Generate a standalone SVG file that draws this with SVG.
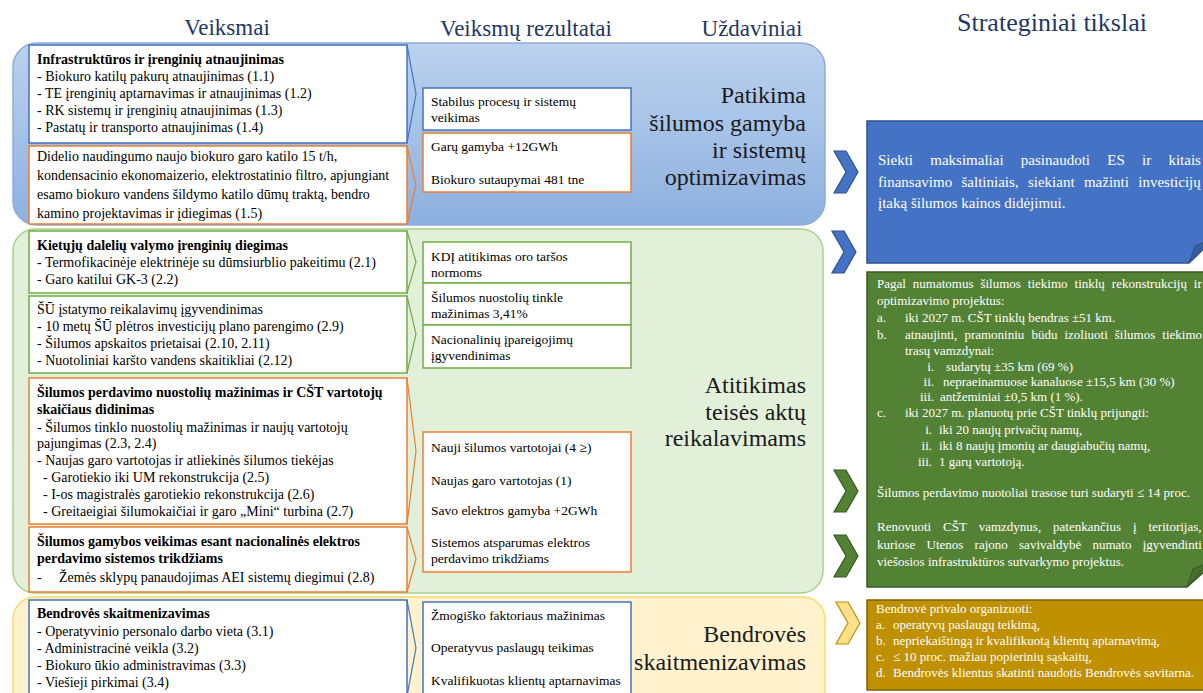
<svg xmlns="http://www.w3.org/2000/svg" xmlns:xlink="http://www.w3.org/1999/xlink" width="1203" height="693" viewBox="0 0 1203 693" font-family="'Liberation Serif', 'Times New Roman', Times, serif">
<defs>
<linearGradient id="gBlue" x1="0" y1="0" x2="0" y2="1"><stop offset="0" stop-color="#BCD2EE"/><stop offset="1" stop-color="#8DB0DF"/></linearGradient>
<polygon id="chev" points="0,0 12,0 24,21 12,42 0,42 12,21"/>
</defs>
<style>
svg text{font-family:'Liberation Serif','Times New Roman',Times,serif}
.h{font-size:23px;fill:#1F3864;text-anchor:middle}
.l{font-size:14px;fill:#000}
.b{font-weight:bold}
.m{font-size:13.5px;fill:#000}
.u{font-size:24px;fill:#1a1a1a;text-anchor:end}
.bx{fill:#fff;stroke-width:1.5}
.bl{stroke:#4472C4}.or{stroke:#ED7D31}.gr{stroke:#70AD47}
.arr{fill:none;stroke-width:1.2}
.w{fill:#fff}
.s13{font-size:13px}
.s15{font-size:15px}
.e{text-anchor:end}
</style>
<rect width="1203" height="693" fill="#fff"/>
<g id="headers">
<text class="h" x="227" y="35">Veiksmai</text>
<text class="h" x="526" y="36">Veiksmų rezultatai</text>
<text class="h" x="752" y="36">Uždaviniai</text>
<text class="h" x="1052" y="31" style="font-size:26px">Strateginiai tikslai</text>
</g>
<g id="sections">
<rect x="13" y="43" width="812" height="182" rx="24" fill="url(#gBlue)" stroke="#8FAADC" stroke-width="1.5"/>
<rect x="13" y="229" width="810" height="364" rx="22" fill="#E2F0D9" stroke="#A9D18E" stroke-width="1.5"/>
<rect x="13" y="597" width="812" height="130" rx="22" fill="#FFF2CC" stroke="#FFD966" stroke-width="1.5"/>
</g>
<g id="a1">
<rect class="bx bl" x="29" y="45" width="378" height="98"/>
<path class="arr bl" d="M407,45 L416,94 L407,143"/>
<text class="l b" x="37" y="64">Infrastruktūros ir įrenginių atnaujinimas</text>
<text class="l" x="37" y="81">- Biokuro katilų pakurų atnaujinimas (1.1)</text>
<text class="l" x="37" y="98">- TE įrenginių aptarnavimas ir atnaujinimas (1.2)</text>
<text class="l" x="37" y="115">- RK sistemų ir įrenginių atnaujinimas (1.3)</text>
<text class="l" x="37" y="132">- Pastatų ir transporto atnaujinimas (1.4)</text>
</g>
<g id="a2">
<rect class="bx or" x="29" y="146" width="378" height="78"/>
<path class="arr or" d="M407,146 L416,185 L407,224"/>
<text class="l" x="37" y="161">Didelio naudingumo naujo biokuro garo katilo 15 t/h,</text>
<text class="l" x="37" y="180">kondensacinio ekonomaizerio, elektrostatinio filtro, apjungiant</text>
<text class="l" x="37" y="199">esamo biokuro vandens šildymo katilo dūmų traktą, bendro</text>
<text class="l" x="37" y="218">kamino projektavimas ir įdiegimas (1.5)</text>
</g>
<g id="a3">
<rect class="bx gr" x="29" y="231" width="378" height="62"/>
<path class="arr gr" d="M407,231 L416,262 L407,293"/>
<text class="l b" x="37" y="250">Kietųjų dalelių valymo įrenginių diegimas</text>
<text class="l" x="37" y="267">- Termofikacinėje elektrinėje su dūmsiurblio pakeitimu (2.1)</text>
<text class="l" x="37" y="284">- Garo katilui GK-3 (2.2)</text>
</g>
<g id="a4">
<rect class="bx gr" x="29" y="296" width="378" height="77"/>
<path class="arr gr" d="M407,296 L416,334 L407,373"/>
<text class="l" x="37" y="314">ŠŪ įstatymo reikalavimų įgyvendinimas</text>
<text class="l" x="37" y="331">- 10 metų ŠŪ plėtros investicijų plano parengimo (2.9)</text>
<text class="l" x="37" y="348">- Šilumos apskaitos prietaisai (2.10, 2.11)</text>
<text class="l" x="37" y="365">- Nuotoliniai karšto vandens skaitikliai (2.12)</text>
</g>
<g id="a5">
<rect class="bx or" x="29" y="378" width="378" height="146"/>
<path class="arr or" d="M407,378 L416,451 L407,524"/>
<text class="l b" x="37" y="397">Šilumos perdavimo nuostolių mažinimas ir CŠT vartotojų</text>
<text class="l b" x="37" y="414">skaičiaus didinimas</text>
<text class="l" x="37" y="432">- Šilumos tinklo nuostolių mažinimas ir naujų vartotojų</text>
<text class="l" x="37" y="448">pajungimas (2.3, 2.4)</text>
<text class="l" x="37" y="465">- Naujas garo vartotojas ir atliekinės šilumos tiekėjas</text>
<text class="l" x="43" y="482">- Garotiekio iki UM rekonstrukcija (2.5)</text>
<text class="l" x="43" y="499">- I-os magistralės garotiekio rekonstrukcija (2.6)</text>
<text class="l" x="43" y="516">- Greitaeigiai šilumokaičiai ir garo „Mini“ turbina (2.7)</text>
</g>
<g id="a6">
<rect class="bx or" x="29" y="527" width="378" height="65"/>
<path class="arr or" d="M407,527 L416,559 L407,592"/>
<text class="l b" x="37" y="546">Šilumos gamybos veikimas esant nacionalinės elektros</text>
<text class="l b" x="37" y="563">perdavimo sistemos trikdžiams</text>
<text class="l" x="37" y="582">-</text>
<text class="l" x="59" y="582">Žemės sklypų panaudojimas AEI sistemų diegimui (2.8)</text>
</g>
<g id="a7">
<rect class="bx bl" x="29" y="600" width="378" height="110"/>
<path class="arr bl" d="M407,600 L416,648 L407,696"/>
<text class="l b" x="37" y="618">Bendrovės skaitmenizavimas</text>
<text class="l" x="37" y="636">- Operatyvinio personalo darbo vieta (3.1)</text>
<text class="l" x="37" y="653">- Administracinė veikla (3.2)</text>
<text class="l" x="37" y="670">- Biokuro ūkio administravimas (3.3)</text>
<text class="l" x="37" y="687">- Viešieji pirkimai (3.4)</text>
</g>
<g id="r1">
<rect class="bx bl" x="423" y="88" width="208" height="42"/>
<text class="m" x="431" y="106">Stabilus procesų ir sistemų</text>
<text class="m" x="431" y="122">veikimas</text>
</g>
<g id="r2">
<rect class="bx or" x="423" y="133" width="208" height="59"/>
<text class="m" x="431" y="151">Garų gamyba +12GWh</text>
<text class="m" x="431" y="184">Biokuro sutaupymai 481 tne</text>
</g>
<g id="r3">
<rect class="bx gr" x="423" y="242" width="208" height="41"/>
<text class="m" x="431" y="261">KDĮ atitikimas oro taršos</text>
<text class="m" x="431" y="277">normoms</text>
</g>
<g id="r4">
<rect class="bx gr" x="423" y="283" width="208" height="42"/>
<text class="m" x="431" y="302">Šilumos nuostolių tinkle</text>
<text class="m" x="431" y="318">mažinimas 3,41%</text>
</g>
<g id="r5">
<rect class="bx gr" x="423" y="325" width="208" height="43"/>
<text class="m" x="431" y="344">Nacionalinių įpareigojimų</text>
<text class="m" x="431" y="360">įgyvendinimas</text>
</g>
<g id="r6">
<rect class="bx or" x="423" y="432" width="208" height="140"/>
<text class="m" x="431" y="452">Nauji šilumos vartotojai (4 ≥)</text>
<text class="m" x="431" y="485">Naujas garo vartotojas (1)</text>
<text class="m" x="431" y="515">Savo elektros gamyba +2GWh</text>
<text class="m" x="431" y="547">Sistemos atsparumas elektros</text>
<text class="m" x="431" y="563">perdavimo trikdžiams</text>
</g>
<g id="r7">
<rect class="bx bl" x="423" y="602" width="208" height="110"/>
<text class="m" x="431" y="620">Žmogiško faktoriaus mažinimas</text>
<text class="m" x="431" y="652">Operatyvus paslaugų teikimas</text>
<text class="m" x="431" y="685">Kvalifikuotas klientų aptarnavimas</text>
</g>
<g id="u1">
<text class="u" x="806" y="103">Patikima</text>
<text class="u" x="806" y="131">šilumos gamyba</text>
<text class="u" x="806" y="158">ir sistemų</text>
<text class="u" x="806" y="185">optimizavimas</text>
</g>
<g id="u2">
<text class="u" x="806" y="393">Atitikimas</text>
<text class="u" x="806" y="420">teisės aktų</text>
<text class="u" x="806" y="446">reikalavimams</text>
</g>
<g id="u3">
<text class="u" x="806" y="642">Bendrovės</text>
<text class="u" x="806" y="670">skaitmenizavimas</text>
</g>
<g id="t1">
<path d="M867,121 H1215 V238 L1189,263 H867 Z" fill="#4472C4" stroke="#2F528F" stroke-width="1.5"/>
<path d="M1189,263 L1195,246 L1210,239 Z" fill="#365F9E" stroke="#2F528F" stroke-width="1"/>
<text class="w s15" x="878" y="165" word-spacing="13.5">Siekti maksimaliai pasinaudoti ES ir kitais</text>
<text class="w s15" x="878" y="187" word-spacing="5.6">finansavimo šaltiniais, siekiant mažinti investicijų</text>
<text class="w s15" x="878" y="208">įtaką šilumos kainos didėjimui.</text>
</g>
<g id="t2">
<path d="M867,272 H1215 V562 L1187,587 H867 Z" fill="#548235" stroke="#385723" stroke-width="1.5"/>
<path d="M1187,587 L1193,569 L1210,562 Z" fill="#46702B" stroke="#385723" stroke-width="1"/>
<g class="w s13">
<text x="877" y="288" word-spacing="3.7">Pagal numatomus šilumos tiekimo tinklų rekonstrukcijų ir</text>
<text x="877" y="305">optimizavimo projektus:</text>
<text x="877" y="322">a.</text><text x="905" y="322">iki 2027 m. CŠT tinklų bendras ±51 km.</text>
<text x="877" y="339">b.</text><text x="905" y="339" word-spacing="3.8">atnaujinti, pramoniniu būdu izoliuoti šilumos tiekimo</text>
<text x="905" y="355">trasų vamzdynai:</text>
<text class="e" x="934" y="371">i.</text><text x="946" y="371">sudarytų ±35 km (69 %)</text>
<text class="e" x="934" y="386">ii.</text><text x="943" y="386">nepraeinamuose kanaluose ±15,5 km (30 %)</text>
<text class="e" x="934" y="401">iii.</text><text x="940" y="401">antžeminiai ±0,5 km (1 %).</text>
<text x="877" y="417">c.</text><text x="905" y="417">iki 2027 m. planuotų prie CŠT tinklų prijungti:</text>
<text class="e" x="932" y="434">i.</text><text x="939" y="434">iki 20 naujų privačių namų,</text>
<text class="e" x="932" y="450">ii.</text><text x="939" y="450">iki 8 naujų įmonių ar daugiabučių namų,</text>
<text class="e" x="932" y="466">iii.</text><text x="939" y="466">1 garų vartotoją.</text>
<text x="877" y="497">Šilumos perdavimo nuotoliai trasose turi sudaryti ≤ 14 proc.</text>
<text x="877" y="531" word-spacing="8.7">Renovuoti CŠT vamzdynus, patenkančius į teritorijas,</text>
<text x="877" y="549" word-spacing="8">kuriose Utenos rajono savivaldybė numato įgyvendinti</text>
<text x="877" y="566">viešosios infrastruktūros sutvarkymo projektus.</text>
</g>
</g>
<g id="t3">
<rect x="867" y="600" width="348" height="90" fill="#BF9000" stroke="#7F6000" stroke-width="1.5"/>
<g class="w s13">
<text x="876" y="613">Bendrovė privalo organizuoti:</text>
<text x="876" y="629">a.</text><text x="893" y="629">operatyvų paslaugų teikimą,</text>
<text x="876" y="645">b.</text><text x="893" y="645">nepriekaištingą ir kvalifikuotą klientų aptarnavimą,</text>
<text x="876" y="661">c.</text><text x="893" y="661">≤ 10 proc. mažiau popierinių sąskaitų,</text>
<text x="876" y="677">d.</text><text x="893" y="677">Bendrovės klientus skatinti naudotis Bendrovės savitarna.</text>
</g>
</g>
<g id="connectors">
<use xlink:href="#chev" x="834" y="151" fill="#4472C4" stroke="#2F528F" stroke-width="1.2"/>
<use xlink:href="#chev" x="832" y="231" fill="#4472C4" stroke="#2F528F" stroke-width="1.2"/>
<use xlink:href="#chev" x="834" y="470" fill="#548235" stroke="#385723" stroke-width="1.2"/>
<use xlink:href="#chev" x="834" y="535" fill="#548235" stroke="#385723" stroke-width="1.2"/>
<use xlink:href="#chev" x="836" y="602" fill="#FFE08A" stroke="#BF9000" stroke-width="1.2"/>
</g>
</svg>
